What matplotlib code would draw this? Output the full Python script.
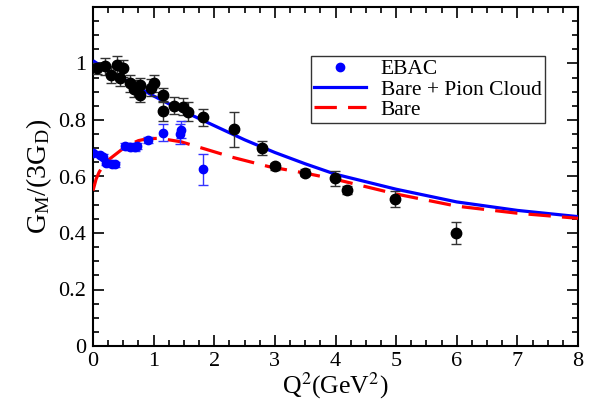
"""
G_M/(3G_D) vs Q^2: EBAC points, data points and model curves
"""

import matplotlib
matplotlib.use("Agg")
import matplotlib.pyplot as plt
from matplotlib.lines import Line2D
from matplotlib.ticker import MultipleLocator

# ─── Data ────────────────────────────────────────────────────────────────
# experimental points (black)
exp_q2 = [0.06, 0.2, 0.29, 0.4, 0.45, 0.5, 0.61, 0.67, 0.78, 0.78, 0.95, 1.0,
          1.15, 1.16, 1.34, 1.48, 1.57, 1.82, 2.33, 2.78, 3.0, 3.5, 3.99, 4.19,
          4.98, 5.99]
exp_g = [0.983, 0.99, 0.96, 0.995, 0.95, 0.983, 0.93, 0.91, 0.924, 0.888,
         0.915, 0.93, 0.833, 0.89, 0.85, 0.847, 0.83, 0.81, 0.767, 0.70,
         0.636, 0.614, 0.594, 0.552, 0.52, 0.40]
exp_err = [0.02, 0.03, 0.03, 0.03, 0.03, 0.03, 0.03, 0.03, 0.025, 0.025,
           0.03, 0.03, 0.035, 0.025, 0.03, 0.03, 0.035, 0.03, 0.062, 0.025,
           0.012, 0.012, 0.027, 0.015, 0.027, 0.04]

# EBAC points (blue)
ebac_q2 = [0.005, 0.115, 0.17, 0.22, 0.31, 0.36, 0.53, 0.61, 0.69, 0.73,
           0.91, 1.15, 1.44, 1.45, 1.81]
ebac_g = [0.684, 0.676, 0.67, 0.649, 0.643, 0.643, 0.708, 0.705, 0.703,
          0.708, 0.729, 0.755, 0.75, 0.765, 0.626]
ebac_err = [0.008, 0.008, 0.008, 0.008, 0.008, 0.008, 0.012, 0.012, 0.012,
            0.012, 0.012, 0.03, 0.035, 0.03, 0.055]

# Bare + Pion Cloud (blue solid)
full_q2 = [0, 0.25, 0.5, 0.75, 1, 1.5, 2, 2.5, 3, 3.5, 4, 5, 6, 7, 8]
full_g = [1.01, 0.975, 0.945, 0.915, 0.885, 0.83, 0.78, 0.73, 0.685, 0.645,
          0.608, 0.555, 0.51, 0.48, 0.458]

# Bare (red dashed)
bare_q2 = [0, 0.05, 0.1, 0.17, 0.25, 0.4, 0.55, 0.75, 0.9, 1.1, 1.45, 1.9,
           2.3, 2.9, 3.5, 4, 5, 6, 7, 8]
bare_g = [0.55, 0.59, 0.615, 0.64, 0.658, 0.683, 0.708, 0.727, 0.734, 0.735,
          0.723, 0.694, 0.668, 0.635, 0.612, 0.59, 0.538, 0.495, 0.47, 0.452]

plt.rcParams["font.family"] = ["Liberation Serif", "DejaVu Serif"]
plt.rcParams["mathtext.fontset"] = "stix"

fig = plt.figure(figsize=(5.98, 4.11), dpi=100)
ax = fig.add_axes([93 / 598, 1 - 346 / 411, (578 - 93) / 598, (346 - 7) / 411])

ax.plot(full_q2, full_g, color="#0000ff", lw=2.3, zorder=3,
        solid_capstyle="butt")
ax.plot(bare_q2, bare_g, color="#ff0000", lw=2.3, dashes=(7, 3.5), zorder=3)

ax.errorbar(exp_q2, exp_g, yerr=exp_err, fmt="o", color="black", ms=7.5,
            ecolor="#333333", elinewidth=1, capsize=3.5, capthick=1, zorder=4)
ax.errorbar(ebac_q2, ebac_g, yerr=ebac_err, fmt="o", color="#0000ff", ms=6,
            ecolor="#3333ff", elinewidth=1, capsize=3.5, capthick=1, zorder=5)

ax.set_xlim(0, 8)
ax.set_ylim(0, 1.2)
ax.xaxis.set_minor_locator(MultipleLocator(0.25))
ax.yaxis.set_minor_locator(MultipleLocator(0.05))
ax.set_yticks([0, 0.2, 0.4, 0.6, 0.8, 1.0])
ax.set_yticklabels(["0", "0.2", "0.4", "0.6", "0.8", "1"])
ax.set_xticks(range(9))
ax.set_xticklabels([str(i) for i in range(9)])
ax.tick_params(which="both", direction="in", top=True, right=True,
               labelsize=16, width=1.2)
ax.tick_params(axis="x", pad=4)
ax.tick_params(axis="y", pad=5)
ax.tick_params(which="major", length=8)
ax.tick_params(which="minor", length=4)
for s in ax.spines.values():
    s.set_linewidth(1.5)

ax.set_xlabel(r"Q$^2$(GeV$^2$)", fontsize=18.5, labelpad=0)
ax.set_ylabel(r"G$_\mathregular{M}$/(3G$_\mathregular{D}$)", fontsize=20,
              labelpad=3)

handles = [
    Line2D([], [], ls="none", marker="o", ms=6, color="#0000ff"),
    Line2D([], [], color="#0000ff", lw=2.3),
    Line2D([], [], color="#ff0000", lw=2.3, dashes=(7, 3.5)),
]
leg = ax.legend(handles, ["EBAC", "Bare + Pion Cloud", "Bare"],
                loc="upper left", bbox_to_anchor=(0.449, 0.855), fontsize=15.5,
                frameon=True, fancybox=False, edgecolor="black",
                handlelength=2.4, borderpad=0.15, labelspacing=0.0,
                handletextpad=0.7, borderaxespad=0)
leg.get_frame().set_linewidth(1.0)

fig.savefig("out.png", dpi=100)
